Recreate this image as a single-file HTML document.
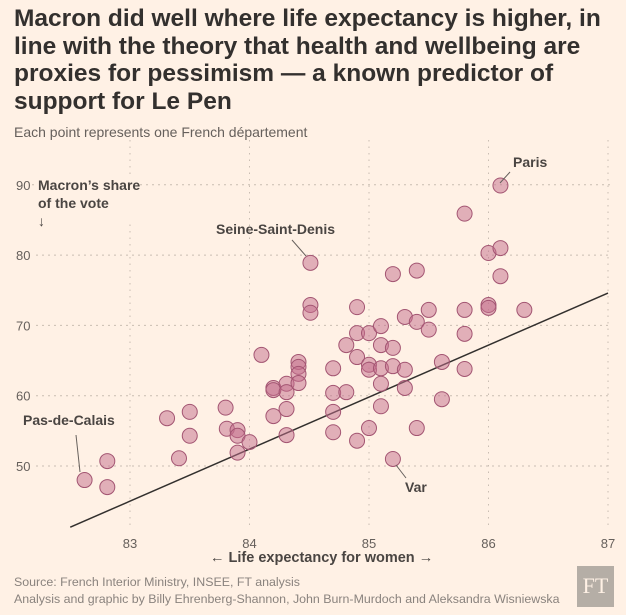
<!DOCTYPE html>
<html><head><meta charset="utf-8"><style>
body{margin:0;background:#fff1e5;font-family:"Liberation Sans",sans-serif;}
#wrap{position:relative;width:626px;height:615px;overflow:hidden;background:#fff1e5;}
h1{position:absolute;left:14px;top:5px;margin:0;font-size:24.5px;line-height:27.5px;font-weight:bold;color:#33302e;white-space:nowrap}
.sub{position:absolute;left:14px;top:124px;font-size:14px;color:#66605c}
.foot{position:absolute;left:14px;font-size:12.4px;color:#8a837e;white-space:nowrap}
#ft{position:absolute;left:577px;top:566px;width:37px;height:41px;background:#b5aea6;color:#fff1e5;font-family:"Liberation Serif",serif;font-size:22px;text-align:center;line-height:40px}
</style></head><body>
<div id="wrap">
<h1>Macron did well where life expectancy is higher, in<br>line with the theory that health and wellbeing are<br>proxies for pessimism — a known predictor of<br>support for Le Pen</h1>
<div class="sub">Each point represents one French département</div>
<svg id="svg" width="626" height="615" style="position:absolute;left:0;top:0"></svg>
<div class="foot" style="top:575px">Source: French Interior Ministry, INSEE, FT analysis</div>
<div class="foot" style="top:592px">Analysis and graphic by Billy Ehrenberg-Shannon, John Burn-Murdoch and Aleksandra Wisniewska</div>
<div id="ft">FT</div>
</div>
<script>
const xTicks=[83,84,85,86,87];
const yTicks=[50,60,70,80,90];
const lifeExp=[82.62,82.81,82.81,83.31,83.41,83.50,83.50,83.80,83.81,83.90,83.90,83.90,84.0,84.10,84.20,84.2,84.2,84.31,84.31,84.31,84.31,84.41,84.41,84.41,84.41,84.51,84.51,84.51,84.70,84.70,84.70,84.70,84.81,84.81,84.90,84.90,84.90,84.90,85.0,85.0,85.0,85.0,85.10,85.10,85.10,85.10,85.10,85.20,85.20,85.20,85.20,85.30,85.30,85.30,85.40,85.40,85.40,85.50,85.50,85.61,85.61,85.80,85.80,85.80,85.80,86.0,86.0,86.0,86.10,86.10,86.10,86.30];
const macronShare=[48.0,50.7,47.0,56.8,51.1,57.7,54.3,58.3,55.3,55.1,54.3,51.9,53.4,65.8,61.1,60.8,57.1,61.7,60.5,58.1,54.4,64.8,64.1,63.1,61.8,78.9,72.9,71.8,63.9,60.4,57.7,54.8,67.2,60.5,72.6,68.9,65.5,53.6,68.9,64.4,63.7,55.4,69.9,67.2,63.9,61.7,58.5,77.3,66.8,64.2,51.0,71.2,63.7,61.1,77.8,70.5,55.4,72.2,69.4,64.8,59.5,85.9,72.2,68.8,63.8,80.3,72.9,72.5,89.9,81.0,77.0,72.2];
const trendX=[82.5,87];
const trendY=[41.3,74.6];
const X=v=>130+(v-83)*119.5;
const Y=v=>466-(v-50)*7.03;
const svg=document.getElementById('svg');
const NS='http://www.w3.org/2000/svg';
function mk(t,a,txt){const e=document.createElementNS(NS,t);for(const k in a)e.setAttribute(k,a[k]);if(txt!=null)e.textContent=txt;svg.appendChild(e);return e;}
xTicks.forEach(t=>{
 const l=mk('line',{x1:X(t),x2:X(t),y1:140,y2:528,stroke:'#c9bdb2','stroke-dasharray':'1.5,5'});
 
 
 const tx=mk('text',{x:X(t),y:548,'text-anchor':'middle','font-size':'13',fill:'#66605c'},t);
 
 
});
yTicks.forEach(t=>{
 const l=mk('line',{x1:t==90?32:36,x2:612,y1:Y(t),y2:Y(t),stroke:'#c9bdb2','stroke-dasharray':'2,4'});
 
 
 const tx=mk('text',{x:16,y:Y(t)+5,'font-size':'13',fill:'#66605c'},t);
 
 
});
const yl=mk('rect',{x:36,y:174,width:100,height:50,fill:'#fff1e5'});


const trend=mk('line',{x1:X(trendX[0]),y1:Y(trendY[0]),x2:X(trendX[1]),y2:Y(trendY[1]),stroke:'#33302e','stroke-width':'1.5'});


lifeExp.forEach((v,i)=>{
 const c=mk('circle',{cx:X(v),cy:Y(macronShare[i]),r:7.5,fill:'rgba(196,110,140,0.5)',stroke:'#a35572','stroke-width':'1'});
 
 
});
function lab(x,y,t,name,fs){const e=mk('text',{x:x,y:y,'font-size':fs||'14','font-weight':'bold',fill:'#4a4542'},t);}
lab(38,190,'Macron’s share','y-axis-title');
lab(38,208,'of the vote','y-axis-title-line2');
lab(38,226,'↓','y-axis-arrow');
lab(513,167,'Paris','label-paris');
lab(216,234,'Seine-Saint-Denis','label-seine-saint-denis');
lab(23,425,'Pas-de-Calais','label-pas-de-calais');
lab(405,492,'Var','label-var');
lab(210,562,'← Life expectancy for women →','x-axis-title','14.5');
[[510,172,500,183],[292,240,306,256],[76,435,80,472],[406,478,396,465]].forEach(p=>{
 const l=mk('line',{x1:p[0],y1:p[1],x2:p[2],y2:p[3],stroke:'#66605c','stroke-width':'1'});
 
 
});
</script>
</body></html>
